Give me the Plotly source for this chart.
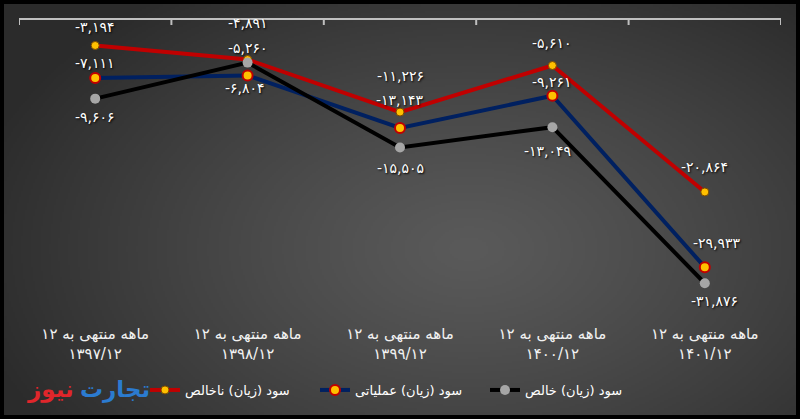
import base64
import struct
import zlib

import numpy as np
import plotly.graph_objects as go

# دوره‌ها
periods = ['۱۲ ماهه منتهی به<br>۱۳۹۷/۱۲', '۱۲ ماهه منتهی به<br>۱۳۹۸/۱۲', '۱۲ ماهه منتهی به<br>۱۳۹۹/۱۲',
           '۱۲ ماهه منتهی به<br>۱۴۰۰/۱۲', '۱۲ ماهه منتهی به<br>۱۴۰۱/۱۲']

gross_profit = [-3194, -4891, -11226, -5610, -20864]        # سود (زیان) ناخالص
operating_profit = [-7111, -6804, -13143, -9261, -29933]    # سود (زیان) عملیاتی
net_profit = [-9606, -5260, -15505, -13049, -31876]         # سود (زیان) خالص

W, H = 800, 419
L, R, T, B = 19, 19, 19, 101
PW, PH = W - L - R, H - T - B


def px(x):
    return (x - L) / PW


def py(y):
    return (H - B - y) / PH


def fa(n):
    return f'{n:,}'.translate(str.maketrans('0123456789', '۰۱۲۳۴۵۶۷۸۹'))


def gradient_png():
    # پس‌زمینه با گرادیان شعاعی
    w, h = 400, 210
    xx, yy = np.meshgrid(np.linspace(0, W, w), np.linspace(0, H, h))
    d = np.sqrt(((xx - 470) / 520) ** 2 + ((yy - 250) / 330) ** 2)
    d = np.clip(d, 0, 1) ** 1.2
    v = (0x5a - (0x5a - 0x2b) * d).astype(np.uint8)
    arr = np.dstack([v, v, v])
    raw = b''.join(b'\x00' + arr[i].tobytes() for i in range(h))

    def chunk(tag, data):
        c = struct.pack('>I', len(data)) + tag + data
        return c + struct.pack('>I', zlib.crc32(tag + data) & 0xffffffff)

    png = (b'\x89PNG\r\n\x1a\n'
           + chunk(b'IHDR', struct.pack('>IIBBBBB', w, h, 8, 2, 0, 0, 0))
           + chunk(b'IDAT', zlib.compress(raw))
           + chunk(b'IEND', b''))
    return 'data:image/png;base64,' + base64.b64encode(png).decode()


fig = go.Figure()

# برچسب دسته‌ها روی محور پایین
fig.add_trace(go.Scatter(x=periods, y=[None] * len(periods), xaxis='x2',
                         showlegend=False, hoverinfo='skip'))

fig.add_trace(go.Scatter(
    x=periods, y=gross_profit, name='سود (زیان) ناخالص', mode='lines+markers',
    line=dict(color='#C00000', width=4),
    marker=dict(color='#FFC000', size=8, line=dict(color='#7a4a00', width=1)),
    cliponaxis=False,
))
fig.add_trace(go.Scatter(
    x=periods, y=operating_profit, name='سود (زیان) عملیاتی', mode='lines+markers',
    line=dict(color='#002060', width=4),
    marker=dict(color='#FFC000', size=10, line=dict(color='#C00000', width=2)),
    cliponaxis=False,
))
fig.add_trace(go.Scatter(
    x=periods, y=net_profit, name='سود (زیان) خالص', mode='lines+markers',
    line=dict(color='#000000', width=4),
    marker=dict(color='#A6A6A6', size=10),
    cliponaxis=False,
))

# برچسب مقادیر (جابجایی به پیکسل)
label_shift = {
    'gross': ([0, 0, 0, 0, 0], [18, 37, 36, 23, 25]),
    'operating': ([0, -3, 0, 0, 12], [15, -13, 28, 14, 24]),
    'net': ([0, 0, 0, -5, 10], [-18, 15, -20, -24, -18]),
}
annotations = []
for key, values in [('gross', gross_profit), ('operating', operating_profit), ('net', net_profit)]:
    dx, dy = label_shift[key]
    for i, v in enumerate(values):
        annotations.append(dict(
            text=fa(v), x=periods[i], y=v, xref='x', yref='y', showarrow=False,
            xshift=dx[i], yshift=dy[i], xanchor='center', yanchor='middle',
            font=dict(family='DejaVu Sans', size=14, color='white', shadow='1px 1px 2px #000'),
        ))

annotations += [
    dict(text='<b>تجارت</b>', x=px(78), y=py(389), xref='paper', yref='paper',
         xanchor='left', yanchor='middle', showarrow=False,
         font=dict(size=23, color='#2B7BD0', family='DejaVu Sans')),
    dict(text='<b>نیوز</b>', x=px(76), y=py(389), xref='paper', yref='paper',
         xanchor='right', yanchor='middle', showarrow=False,
         font=dict(size=23, color='#E0262B', family='DejaVu Sans')),
]

# تیک‌های محور بالا در مرز دسته‌ها
tick_shapes = [dict(type='line', xref='x', x0=i - 0.5, x1=i - 0.5, yref='paper',
                    ysizemode='pixel', yanchor=1, y0=0, y1=-6,
                    line=dict(color='#BFBFBF', width=2))
               for i in range(len(periods) + 1)]

fig.update_layout(
    width=W, height=H,
    margin=dict(l=L, r=R, t=T, b=B, autoexpand=False),
    paper_bgcolor='black',
    plot_bgcolor='rgba(0,0,0,0)',
    font=dict(family='DejaVu Sans', color='white'),
    xaxis=dict(type='category', range=[-0.5, 4.5], anchor='free', position=1, side='bottom',
               showgrid=False, zeroline=False, showline=True, linecolor='#BFBFBF', linewidth=2,
               ticks='', showticklabels=False, automargin=False),
    xaxis2=dict(type='category', range=[-0.5, 4.5], overlaying='x', side='bottom', anchor='y',
                showgrid=False, showline=False, zeroline=False, ticks='',
                tickfont=dict(size=15, color='#f2f2f2'), automargin=False, ticklabelstandoff=5),
    yaxis=dict(visible=False, range=[-36068, 0], automargin=False),
    showlegend=True,
    legend=dict(orientation='h', x=0.5, xanchor='center', y=py(390), yanchor='middle',
                font=dict(size=13, color='white'), bgcolor='rgba(0,0,0,0)', entrywidth=125),
    images=[dict(source=gradient_png(), xref='paper', yref='paper', x=px(4), y=py(4),
                 sizex=px(796) - px(4), sizey=py(4) - py(415), sizing='stretch', layer='below')],
    shapes=tick_shapes,
    annotations=annotations,
)

fig.write_html('out.html', config={'displayModeBar': False},
               post_script="document.body.style.margin='0';")
